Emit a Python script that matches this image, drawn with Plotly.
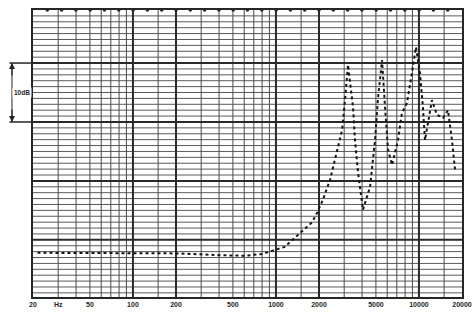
import math
import plotly.graph_objects as go

# ---- data (frequency response, dB) ----
freq_hz = [21.5, 50, 100, 200, 400, 600, 800, 1000, 1150, 1420, 1790, 1940, 2130, 2390,
           2500, 2670, 2900, 3040, 3190, 3460, 3570, 3750, 4060, 4550, 4930, 5180,
           5520, 5790, 6080, 6480, 7130, 7600, 8240, 8930, 9530, 10160, 10660, 11020,
           12330, 13370, 14730, 15960, 17020, 17870]
level_db = [7.8, 7.8, 7.8, 7.7, 7.4, 7.3, 7.6, 8.3, 8.8, 10.8, 13.0, 14.6, 16.8, 20.2,
            22.2, 24.7, 28.6, 33.7, 39.7, 32.5, 26.9, 21.4, 15.1, 19.0, 26.9, 34.2,
            40.5, 32.5, 25.3, 22.7, 26.9, 31.5, 33.2, 38.3, 42.7, 38.3, 32.5, 26.9,
            33.7, 31.2, 30.7, 32.0, 26.9, 21.9]

tick_vals = [20, 30, 50, 100, 200, 500, 1000, 2000, 5000, 10000, 20000]
tick_text = ["20", "Hz", "50", "100", "200", "500", "1000", "2000", "5000", "10000", "20000"]

grid_minor_hz = [30, 40, 50, 60, 70, 80, 90, 150, 300, 400, 500, 600, 700, 800, 900,
                 1500, 3000, 4000, 5000, 6000, 7000, 8000, 9000, 15000]
grid_major_hz = [100, 200, 1000, 2000, 10000]
grid_major_db = [10, 20, 30, 40]
grid_minor_db = [d for d in range(1, 49) if d not in grid_major_db]

sprocket_hz = [20 * 10 ** (k / 10) for k in range(1, 30)]

Y_LO, Y_HI = 0.3, 49.0
X_LO, X_HI = 20, 20000
INK = "#262626"


def vlines(vals):
    xs, ys = [], []
    for v in vals:
        xs += [v, v, None]
        ys += [Y_LO, Y_HI, None]
    return xs, ys


def hlines(vals):
    xs, ys = [], []
    for v in vals:
        xs += [X_LO, X_HI, None]
        ys += [v, v, None]
    return xs, ys


fig = go.Figure()

for vals, fn, w, c in [
    (grid_minor_db, hlines, 1, "#5a5a5a"),
    (grid_minor_hz, vlines, 1, "#4a4a4a"),
    (grid_major_db, hlines, 2, "#2a2a2a"),
    (grid_major_hz, vlines, 2, "#2a2a2a"),
]:
    xs, ys = fn(vals)
    fig.add_trace(go.Scatter(x=xs, y=ys, mode="lines",
                             line=dict(color=c, width=w),
                             hoverinfo="skip", showlegend=False))

fig.add_trace(go.Scatter(x=sprocket_hz, y=[Y_HI] * len(sprocket_hz), mode="markers",
                         marker=dict(size=3.5, color=INK), cliponaxis=False,
                         hoverinfo="skip", showlegend=False))

fig.add_trace(go.Scatter(x=freq_hz, y=level_db, mode="lines",
                         line=dict(color="#151515", width=2, dash="3px,3px"),
                         showlegend=False))

# 10 dB scale marker in the left margin
for yv in (30, 40):
    fig.add_shape(type="line", xref="paper", yref="y", x0=-0.055, x1=0,
                  y0=yv, y1=yv, line=dict(color=INK, width=1.5))
fig.add_shape(type="line", xref="paper", yref="y", x0=-0.049, x1=-0.049,
              y0=30, y1=40, line=dict(color=INK, width=1))
fig.add_annotation(xref="paper", yref="y", x=-0.049, y=40, ax=0, ay=14, text="",
                   showarrow=True, arrowhead=2, arrowsize=1, arrowwidth=1.2, arrowcolor=INK)
fig.add_annotation(xref="paper", yref="y", x=-0.049, y=30, ax=0, ay=-14, text="",
                   showarrow=True, arrowhead=2, arrowsize=1, arrowwidth=1.2, arrowcolor=INK)
fig.add_annotation(xref="paper", yref="y", x=-0.049, y=35, text="<b>10dB</b>",
                   showarrow=False, bgcolor="white",
                   font=dict(family="Liberation Sans", size=6.5, color=INK))

fig.update_layout(
    width=475, height=313,
    margin=dict(l=33, r=13, t=10, b=16, autoexpand=False),
    paper_bgcolor="white", plot_bgcolor="white",
    xaxis=dict(type="log", range=[math.log10(X_LO), math.log10(X_HI)],
               tickmode="array", tickvals=tick_vals, ticktext=tick_text,
               showgrid=False, zeroline=False, ticks="", automargin=False,
               showline=True, mirror=True, linecolor=INK, linewidth=2,
               tickfont=dict(family="Liberation Sans", size=7, color=INK, weight="bold")),
    yaxis=dict(range=[Y_LO, Y_HI], showticklabels=False, showgrid=False,
               zeroline=False, ticks="", showline=True, mirror=True, automargin=False,
               linecolor=INK, linewidth=2),
)

fig.write_html("out.html", config={"displayModeBar": False},
               post_script="document.body.style.margin='0';")
